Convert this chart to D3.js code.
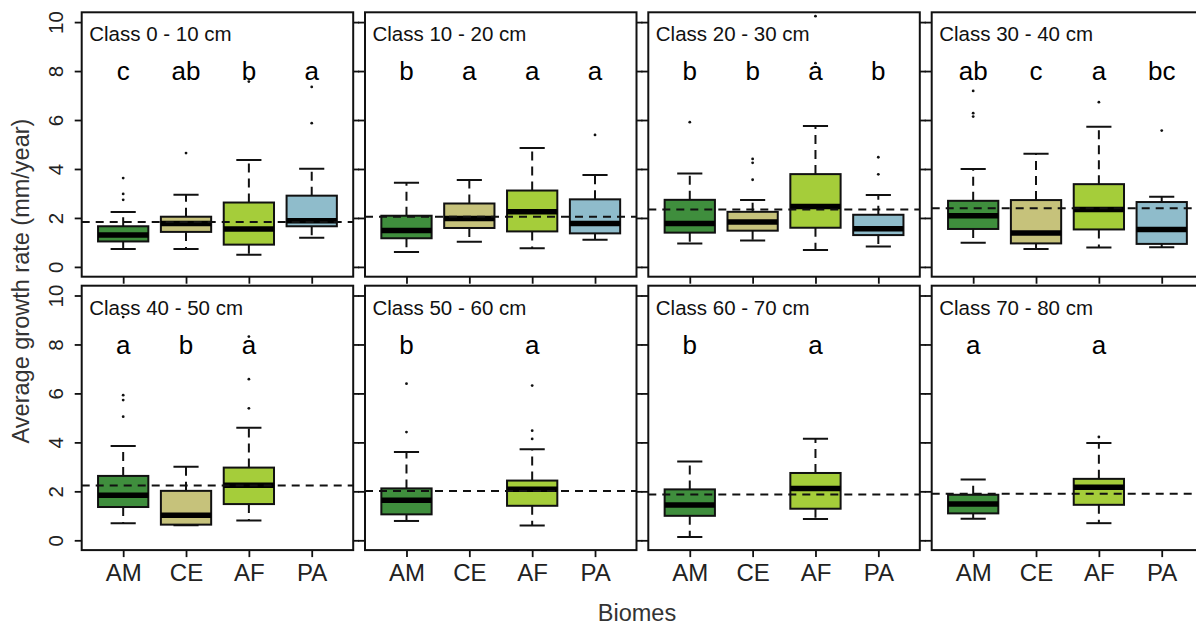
<!DOCTYPE html>
<html lang="en">
<head>
<meta charset="utf-8">
<script src="https://d3js.org/d3.v7.min.js"></script>
<style>
  body { margin: 0; overflow: hidden; background: #fff; }
  text { font-family: "Liberation Sans", Arial, sans-serif; }
</style>
</head>
<body>
<script>

// categories
const biomes = ["AM", "CE", "AF", "PA"];
const classes = ["Class 0 - 10 cm", "Class 10 - 20 cm", "Class 20 - 30 cm", "Class 30 - 40 cm",
                 "Class 40 - 50 cm", "Class 50 - 60 cm", "Class 60 - 70 cm", "Class 70 - 80 cm"];
const yTicks = [0, 2, 4, 6, 8, 10];

// significance letters, one per biome (null = no data)
const letters = [
    ["c", "ab", "b", "a"],
    ["b", "a", "a", "a"],
    ["b", "b", "a", "b"],
    ["ab", "c", "a", "bc"],
    ["a", "b", "a", null],
    ["b", null, "a", null],
    ["b", null, "a", null],
    ["a", null, "a", null]
];

// box statistics per class, per biome (AM, CE, AF, PA)
const lowWhisker = [
    [0.73, 0.73, 0.50, 1.19],
    [0.61, 1.03, 0.76, 1.11],
    [0.96, 1.08, 0.69, 0.83],
    [0.99, 0.73, 0.79, 0.80],
    [0.70, 0.61, 0.81, null],
    [0.79, null, 0.60, null],
    [0.13, null, 0.87, null],
    [0.88, null, 0.70, null]
];
const q1 = [
    [1.04, 1.43, 0.91, 1.66],
    [1.17, 1.59, 1.45, 1.37],
    [1.40, 1.48, 1.60, 1.30],
    [1.55, 0.96, 1.53, 0.94],
    [1.36, 0.64, 1.48, null],
    [1.06, null, 1.41, null],
    [1.00, null, 1.29, null],
    [1.10, null, 1.45, null]
];
const median = [
    [1.30, 1.77, 1.55, 1.89],
    [1.49, 1.98, 2.25, 1.77],
    [1.77, 1.83, 2.47, 1.56],
    [2.09, 1.39, 2.34, 1.53],
    [1.84, 1.02, 2.25, null],
    [1.64, null, 2.09, null],
    [1.44, null, 2.12, null],
    [1.48, null, 2.17, null]
];
const q3 = [
    [1.66, 2.05, 2.63, 2.91],
    [2.09, 2.59, 3.12, 2.76],
    [2.74, 2.25, 3.79, 2.13],
    [2.70, 2.73, 3.38, 2.65],
    [2.63, 2.02, 2.97, null],
    [2.12, null, 2.44, null],
    [2.08, null, 2.75, null],
    [1.86, null, 2.51, null]
];
const highWhisker = [
    [2.24, 2.95, 4.37, 4.01],
    [3.44, 3.55, 4.86, 3.75],
    [3.82, 2.73, 5.76, 2.94],
    [4.00, 4.62, 5.73, 2.87],
    [3.85, 3.00, 4.60, null],
    [3.61, null, 3.72, null],
    [3.22, null, 4.15, null],
    [2.48, null, 3.97, null]
];
const outliers = [
    [[3.63, 2.98, 2.74], [4.65], [7.57], [5.87, 7.35]],
    [[], [], [], [5.39]],
    [[5.91], [4.41, 4.25, 3.56], [10.24, 8.32], [4.48, 3.78]],
    [[7.19, 6.28, 6.14], [], [6.73], [5.57]],
    [[5.93, 5.73, 5.05, 9.12], [], [5.39, 6.58, 8.32], []],
    [[4.42, 6.40], [], [4.14, 4.48, 6.32], []],
    [[], [], [], []],
    [[], [], [4.22], []]
];
// dashed reference line per class
const refLine = [1.83, 2.05, 2.34, 2.40, 2.24, 2.01, 1.87, 1.90];

const colors = ["#3f8e3d", "#c6c27b", "#a5cd3a", "#8fbccb"];

const width = 1196, height = 626;
const panelW = 271.5, panelH = 264.4;
const panelLeft = [81.7, 365, 648.3, 931.7];
const panelTop = [12.3, 285.7];

const svg = d3.select("body").append("svg")
    .attr("width", width)
    .attr("height", height);

const x = d3.scaleLinear().domain([0.34, 4.66]).range([0, panelW]);
const y = d3.scaleLinear().domain([-0.4, 10.4]).range([panelH, 0]);
const boxHalf = (x(1.4) - x(1)) ;
const capHalf = (x(1.2) - x(1));

classes.forEach(function (cls, k) {
    const col = k % 4, row = Math.floor(k / 4);
    const g = svg.append("g")
        .attr("transform", "translate(" + panelLeft[col] + "," + panelTop[row] + ")");

    // axes ticks
    const left = g.append("g").call(d3.axisLeft(y).tickValues(yTicks).tickSize(7)
        .tickFormat(col === 0 ? d3.format("d") : ""));
    const right = g.append("g").attr("transform", "translate(" + panelW + ",0)")
        .call(d3.axisRight(y).tickValues(yTicks).tickSize(6).tickFormat(""));
    const bottom = g.append("g").attr("transform", "translate(0," + panelH + ")")
        .call(d3.axisBottom(x).tickValues([1, 2, 3, 4]).tickSize(7)
            .tickFormat(row === 1 ? function (d) { return biomes[d - 1]; } : ""));
    [left, right, bottom].forEach(function (a) {
        a.select(".domain").remove();
        a.selectAll(".tick line").attr("stroke", "#111").attr("stroke-width", 1.8);
    });
    left.selectAll(".tick text")
        .attr("font-size", 20.5).attr("fill", "#222")
        .attr("x", null).attr("dy", null)
        .attr("text-anchor", "middle")
        .attr("transform", "translate(-26,0) rotate(-90)")
        .attr("y", 0).attr("dy", "0.35em");
    bottom.selectAll(".tick text")
        .attr("font-size", 24).attr("fill", "#222").attr("y", 14).attr("dy", "0.71em");

    const clipId = "clip" + k;
    g.append("clipPath").attr("id", clipId).append("rect")
        .attr("width", panelW).attr("height", panelH);
    const inner = g.append("g").attr("clip-path", "url(#" + clipId + ")");

    biomes.forEach(function (b, i) {
        if (median[k][i] == null) return;
        const cx = x(i + 1);
        // whiskers
        inner.append("line")
            .attr("x1", cx).attr("x2", cx)
            .attr("y1", y(q3[k][i])).attr("y2", y(highWhisker[k][i]))
            .attr("stroke", "#111").attr("stroke-width", 2).attr("stroke-dasharray", "9,6");
        inner.append("line")
            .attr("x1", cx).attr("x2", cx)
            .attr("y1", y(q1[k][i])).attr("y2", y(lowWhisker[k][i]))
            .attr("stroke", "#111").attr("stroke-width", 2).attr("stroke-dasharray", "9,6");
        [lowWhisker[k][i], highWhisker[k][i]].forEach(function (v) {
            inner.append("line")
                .attr("x1", cx - capHalf).attr("x2", cx + capHalf)
                .attr("y1", y(v)).attr("y2", y(v))
                .attr("stroke", "#111").attr("stroke-width", 2);
        });
        // box
        inner.append("rect")
            .attr("x", cx - boxHalf).attr("width", 2 * boxHalf)
            .attr("y", y(q3[k][i])).attr("height", y(q1[k][i]) - y(q3[k][i]))
            .attr("fill", colors[i]).attr("stroke", "#111").attr("stroke-width", 2);
        inner.append("line")
            .attr("x1", cx - boxHalf).attr("x2", cx + boxHalf)
            .attr("y1", y(median[k][i])).attr("y2", y(median[k][i]))
            .attr("stroke", "#000").attr("stroke-width", 5.5);
        // outliers
        outliers[k][i].forEach(function (v) {
            inner.append("circle")
                .attr("cx", cx).attr("cy", y(v)).attr("r", 1.4).attr("fill", "#111");
        });
        // letter
        g.append("text")
            .attr("x", cx).attr("y", y(8)).attr("dy", "0.35em")
            .attr("text-anchor", "middle")
            .attr("font-size", 26).attr("fill", "#000")
            .text(letters[k][i]);
    });

    // reference line
    inner.append("line")
        .attr("x1", 0).attr("x2", panelW)
        .attr("y1", y(refLine[k])).attr("y2", y(refLine[k]))
        .attr("stroke", "#111").attr("stroke-width", 2).attr("stroke-dasharray", "8,6");

    // title
    g.append("text")
        .attr("x", 7.5).attr("y", 29)
        .attr("font-size", 20.5).attr("fill", "#111")
        .text(cls);

    // frame
    g.append("rect")
        .attr("width", panelW).attr("height", panelH)
        .attr("fill", "none").attr("stroke", "#111").attr("stroke-width", 2);
});

// axis titles
svg.append("text")
    .attr("transform", "translate(21,281) rotate(-90)")
    .attr("text-anchor", "middle").attr("dy", "0.35em")
    .attr("font-size", 23.5).attr("fill", "#333")
    .text("Average growth rate (mm/year)");

svg.append("text")
    .attr("x", 637).attr("y", 613).attr("dy", "0.35em")
    .attr("text-anchor", "middle")
    .attr("font-size", 23.5).attr("fill", "#333")
    .text("Biomes");

</script>
</body>
</html>
